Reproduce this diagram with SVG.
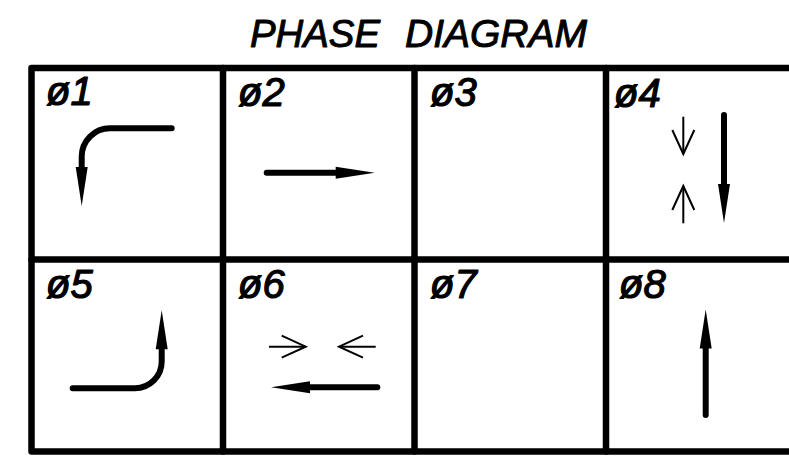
<svg xmlns="http://www.w3.org/2000/svg" width="789" height="461" viewBox="0 0 789 461">
  <style>
    .grid { fill: none; stroke: #000; stroke-width: 6.5; stroke-linecap: round; stroke-linejoin: round; }
    .title { font-family: "Liberation Sans", Arial, sans-serif; font-style: italic; font-size: 39px; fill: #000; stroke: #000; stroke-width: 1; stroke-linejoin: round; }
    .lbl { font-family: "Liberation Sans", Arial, sans-serif; font-style: italic; font-size: 40px; fill: #000; stroke: #000; stroke-width: 1.2; stroke-linejoin: round; }
    .thick { fill: none; stroke: #000; stroke-width: 6; stroke-linecap: round; stroke-linejoin: round; marker-end: url(#head); }
    .thin { fill: none; stroke: #000; stroke-width: 2; marker-end: url(#open); }
  </style>
  <defs>
    <marker id="head" markerUnits="userSpaceOnUse" orient="auto" refX="0" refY="0" markerWidth="40" markerHeight="14" viewBox="0 -7 40 14" overflow="visible">
      <path d="M-1,-6 L38,0 L-1,6 Z" fill="#000"/>
    </marker>
    <marker id="open" markerUnits="userSpaceOnUse" orient="auto" refX="0" refY="0" markerWidth="30" markerHeight="26" viewBox="-28 -13 30 26" overflow="visible">
      <path d="M-24,-11 L0,0 L-24,11" fill="none" stroke="#000" stroke-width="2" stroke-linejoin="miter"/>
    </marker>
  </defs>
  <rect x="0" y="0" width="789" height="461" fill="#fff"/>

  <g id="title">
    <text class="title" x="250" y="47" textLength="130" lengthAdjust="spacingAndGlyphs">PHASE</text>
    <text class="title" x="405" y="47" textLength="182" lengthAdjust="spacingAndGlyphs">DIAGRAM</text>
  </g>

  <g id="grid">
    <path class="grid" d="M795,68 H31.5 V451.5 H795"/>
    <path class="grid" d="M31.5,259.5 H795"/>
    <path class="grid" d="M223,68 V451.5 M414.5,68 V451.5 M606,68 V451.5"/>
  </g>

  <g id="phase1">
    <text class="lbl" x="46" y="105">ø1</text>
    <path class="thick" d="M171.7,128.3 H110 A28.3,28.3 0 0 0 81.7,156.6 V168"/>
  </g>
  <g id="phase2">
    <text class="lbl" x="238" y="106">ø2</text>
    <path class="thick" d="M266.7,172.7 H336.7"/>
  </g>
  <g id="phase3">
    <text class="lbl" x="430" y="106">ø3</text>
  </g>
  <g id="phase4">
    <text class="lbl" x="614" y="107">ø4</text>
    <path class="thin" d="M683.3,116.7 V154"/>
    <path class="thin" d="M683.3,223.3 V186"/>
    <path class="thick" d="M724,115 V185"/>
  </g>
  <g id="phase5">
    <text class="lbl" x="46" y="298">ø5</text>
    <path class="thick" d="M72.7,388.3 H135 A26.7,26.7 0 0 0 161.7,361.6 V348.3"/>
  </g>
  <g id="phase6">
    <text class="lbl" x="238" y="298">ø6</text>
    <path class="thin" d="M269,346.7 H305.7"/>
    <path class="thin" d="M375.7,346.7 H339"/>
    <path class="thick" d="M377.3,387.3 H309"/>
  </g>
  <g id="phase7">
    <text class="lbl" x="430" y="298">ø7</text>
  </g>
  <g id="phase8">
    <text class="lbl" x="619" y="298">ø8</text>
    <path class="thick" d="M705.7,415 V347.5"/>
  </g>
</svg>
